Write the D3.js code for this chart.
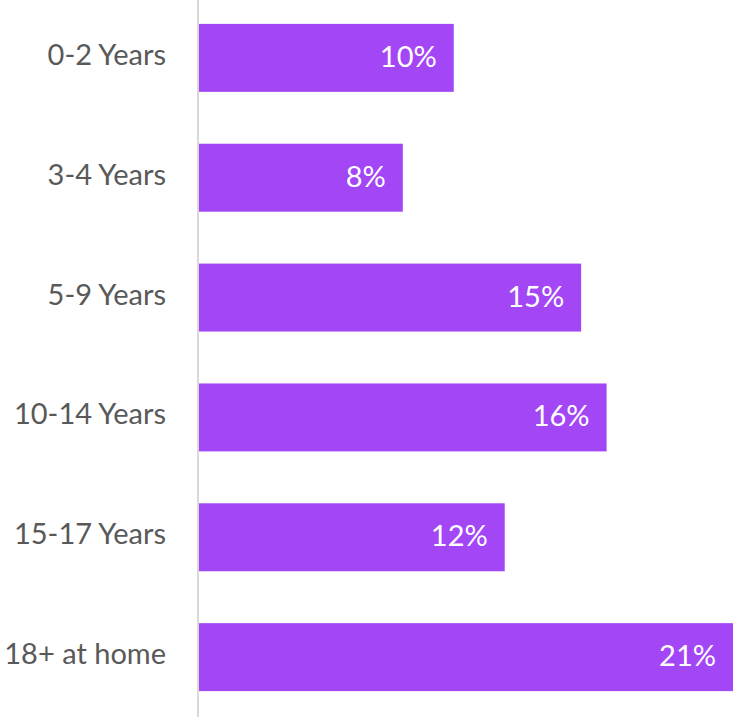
<!DOCTYPE html>
<html><head><meta charset="utf-8">
<script src="https://cdn.jsdelivr.net/npm/d3@7"></script>
<style>html,body{margin:0;padding:0;background:#fff;overflow:hidden}</style>
</head><body>
<svg id="c" width="733" height="717"></svg>
<script>
const categories = ["0-2 Years","3-4 Years","5-9 Years","10-14 Years","15-17 Years","18+ at home"];
const values = [10, 8, 15, 16, 12, 21];
const valueLabels = ["10%","8%","15%","16%","12%","21%"];

const svg = d3.select("#c");
const W = 733, H = 717;
const x0 = 199;
const x = d3.scaleLinear().domain([0, 21]).range([x0, 734]);
const y = d3.scaleBand().domain(categories).range([-2, 717]).paddingInner(0.433).paddingOuter(0.216);
const font = "Lato, 'Open Sans', sans-serif";

svg.selectAll("rect.bar").data(values).enter().append("rect")
  .attr("class","bar")
  .attr("x", x(0))
  .attr("y", (d,i) => y(categories[i]))
  .attr("width", d => x(d) - x(0))
  .attr("height", y.bandwidth())
  .attr("fill", "#A346F6");

svg.append("line").attr("x1", x0-1).attr("x2", x0-1).attr("y1", 0).attr("y2", H)
  .attr("stroke", "#d9d9d9").attr("stroke-width", 2);

svg.selectAll("text.cat").data(categories).enter().append("text")
  .attr("class","cat")
  .attr("x", 166)
  .attr("y", d => y(d) + y.bandwidth()/2 + 7)
  .attr("text-anchor", "end")
  .attr("font-family", font).attr("font-size", 29)
  .attr("fill", "#595959")
  .text(d => d);

svg.selectAll("text.val").data(values).enter().append("text")
  .attr("class","val")
  .attr("x", d => Math.min(x(d), W) - 17)
  .attr("y", (d,i) => y(categories[i]) + y.bandwidth()/2 + 9)
  .attr("text-anchor", "end")
  .attr("font-family", font).attr("font-size", 29)
  .attr("fill", "#ffffff")
  .text((d,i) => valueLabels[i]);
</script>
</body></html>
